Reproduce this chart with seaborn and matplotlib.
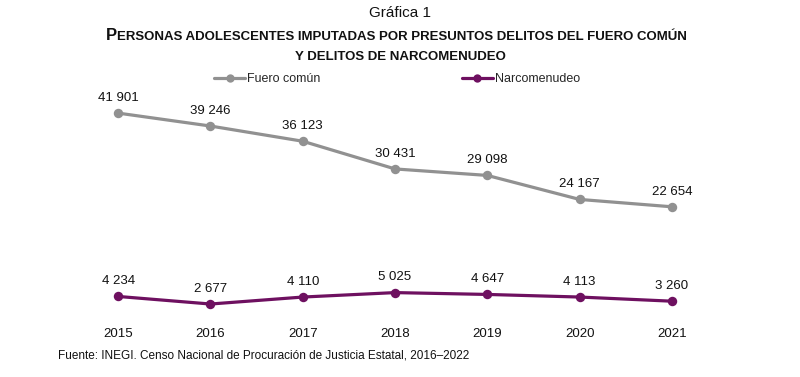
import matplotlib
matplotlib.use("Agg")
import matplotlib.pyplot as plt
import seaborn as sns
import pandas as pd
from matplotlib.offsetbox import TextArea, HPacker, AnchoredOffsetbox
from matplotlib.lines import Line2D

years = [2015, 2016, 2017, 2018, 2019, 2020, 2021]
fuero_comun = [41901, 39246, 36123, 30431, 29098, 24167, 22654]
narcomenudeo = [4234, 2677, 4110, 5025, 4647, 4113, 3260]
series_names = ["Fuero común", "Narcomenudeo"]
colors = ["#919191", "#6E1060"]

df = pd.DataFrame({
    "year": years * 2,
    "value": fuero_comun + narcomenudeo,
    "serie": [series_names[0]] * len(years) + [series_names[1]] * len(years),
})

sns.set_theme(style="white")
plt.rcParams["font.family"] = ["Liberation Sans", "DejaVu Sans"]

fig = plt.figure(figsize=(8, 3.77), dpi=100)
ax = fig.add_axes([72 / 800, 0.159, 646 / 800, 0.581])

sns.lineplot(data=df, x="year", y="value", hue="serie", palette=colors,
             marker="o", markersize=6.8, markeredgewidth=0, linewidth=2.3,
             ax=ax, legend=False)

ax.set_xlim(2014.5, 2021.5)
ax.set_ylim(0, 45000)
for s in ax.spines.values():
    s.set_visible(False)
ax.set_yticks([])
ax.set_xticks(years)
ax.set_xticklabels([str(y) for y in years], fontsize=9.5, color="#111111")
ax.tick_params(axis="x", length=0, pad=8)
ax.set_xlabel("")
ax.set_ylabel("")

def fmt(v):
    return f"{v:,}".replace(",", " ")

for vals in (fuero_comun, narcomenudeo):
    for x, v in zip(years, vals):
        ax.annotate(fmt(v), (x, v), xytext=(0, 11), textcoords="offset points",
                    ha="center", va="center", fontsize=9.5, color="#111111")

# Legend
handles = [Line2D([], [], color=c, linewidth=2.3, marker="o", markersize=6, markeredgewidth=0)
           for c in colors]
fig.legend(handles, series_names, loc="center", bbox_to_anchor=(397 / 800, 1 - 79 / 377),
           ncol=2, frameon=False, fontsize=9, handlelength=2.5, handletextpad=0.16,
           columnspacing=11.3)

# Titles
fig.text(0.5, 1 - 13 / 377, "Gráfica 1", ha="center", va="center", fontsize=11, color="#111111")

t1 = TextArea("P", textprops=dict(fontsize=12, fontweight="bold", color="#111111"))
t2 = TextArea("ERSONAS ADOLESCENTES IMPUTADAS POR PRESUNTOS DELITOS DEL FUERO COMÚN",
              textprops=dict(fontsize=9.5, fontweight="bold", color="#111111"))
box = HPacker(children=[t1, t2], align="baseline", pad=0, sep=0)
anch = AnchoredOffsetbox(loc="center", child=box, pad=0, frameon=False,
                         bbox_to_anchor=(396 / 800, 1 - 35 / 377), bbox_transform=fig.transFigure,
                         borderpad=0)
fig.add_artist(anch)
fig.text(0.5, 1 - 57 / 377, "Y DELITOS DE NARCOMENUDEO", ha="center", va="center",
         fontsize=9.5, fontweight="bold", color="#111111")

fig.text(58 / 800, 1 - 356 / 377,
         "Fuente: INEGI. Censo Nacional de Procuración de Justicia Estatal, 2016–2022",
         ha="left", va="center", fontsize=8.5, color="#111111")

fig.savefig("out.png", dpi=100)
